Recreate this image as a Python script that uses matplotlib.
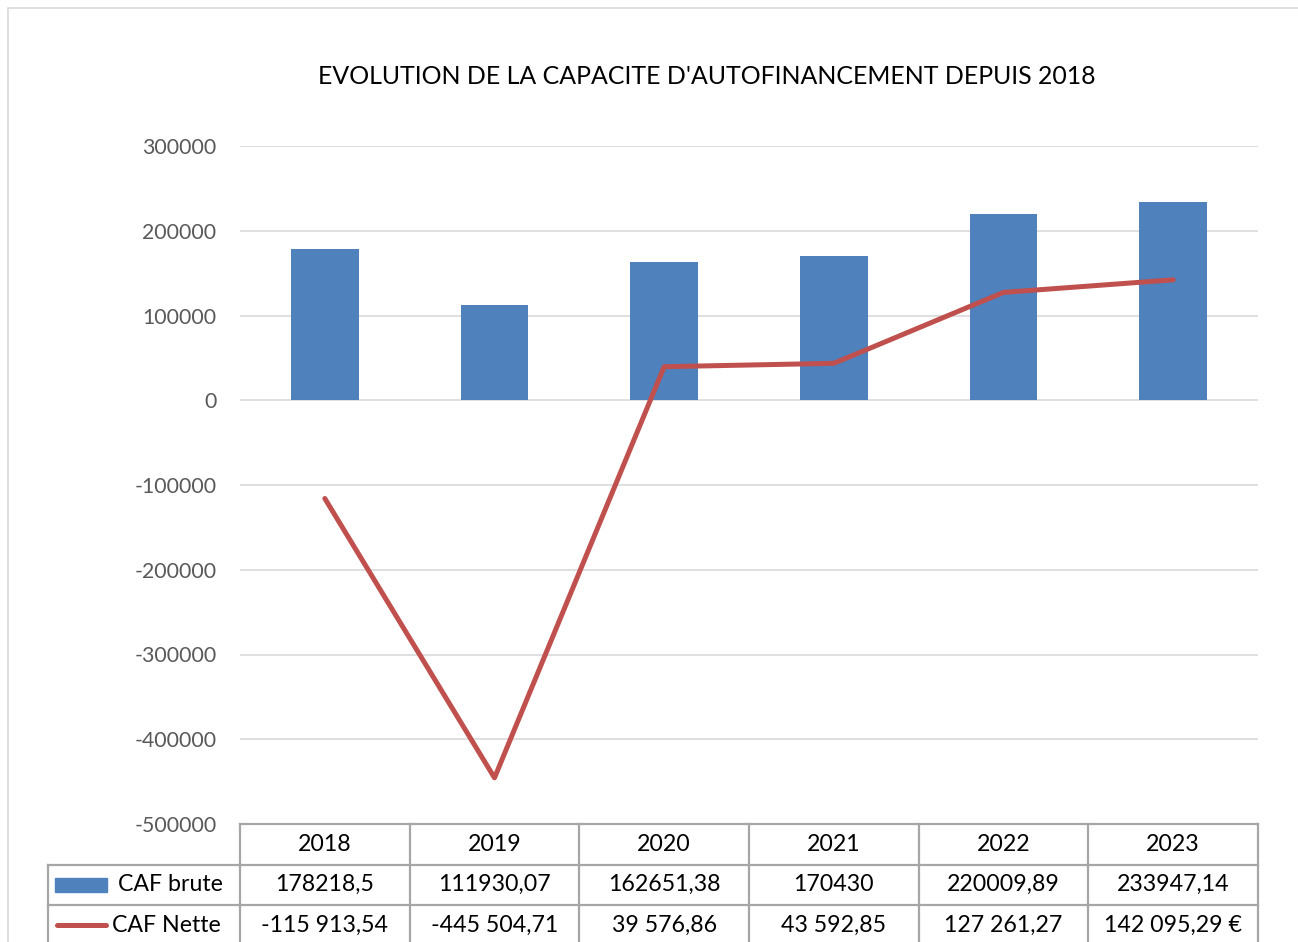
import matplotlib.pyplot as plt
import matplotlib.transforms as mtransforms
from matplotlib.patches import Rectangle
from matplotlib.lines import Line2D

plt.rcParams['font.family'] = ['Lato', 'DejaVu Sans']
plt.rcParams['axes.unicode_minus'] = False

years = ["2018", "2019", "2020", "2021", "2022", "2023"]
caf_brute = [178218.5, 111930.07, 162651.38, 170430, 220009.89, 233947.14]
caf_nette = [-115913.54, -445504.71, 39576.86, 43592.85, 127261.27, 142095.29]
series_names = ["CAF brute", "CAF Nette"]

blue = "#4F81BD"
red = "#C0504D"
grid_col = "#D9D9D9"
table_col = "#A6A6A6"

W, H = 1298, 942
fig = plt.figure(figsize=(W / 100, H / 100), dpi=100)

# chart frame (cropped on the right/bottom like the screenshot)
fig.patches.append(Rectangle((8 / W, -0.1), 1.2, (H - 8) / H + 0.1, transform=fig.transFigure,
                             fill=False, edgecolor="#D9D9D9", linewidth=1.2))

ax = fig.add_axes([240 / W, (H - 824) / H, 1018 / W, 678 / H])
x = list(range(len(years)))

ax.bar(x, caf_brute, width=0.4, color=blue, zorder=2)
ax.plot(x, caf_nette, color=red, linewidth=3.6, zorder=3, solid_capstyle='round')

ax.set_xlim(-0.5, len(years) - 0.5)
ax.set_ylim(-500000, 300000)
ax.set_yticks(range(-500000, 300001, 100000))
ax.yaxis.grid(True, color=grid_col, linewidth=1.2, zorder=0)
ax.set_axisbelow(True)
ax.tick_params(axis='y', length=0, pad=17, labelsize=15.3, labelcolor="#595959")
ax.set_xticks([])
for s in ax.spines.values():
    s.set_visible(False)

fig.text(707 / W, (H - 77) / H, "EVOLUTION DE LA CAPACITE D'AUTOFINANCEMENT DEPUIS 2018",
         ha='center', va='center', fontsize=17.9, color="black")

# data table below the plot
tr = mtransforms.blended_transform_factory(ax.transData, ax.transAxes)
rh = 40.5 / 678
left = -0.5 - 192 / 170
right = len(years) - 0.5
lw = 1.6
kw = dict(transform=tr, color=table_col, linewidth=lw, clip_on=False)

# horizontal lines
ax.add_line(Line2D([-0.5, right], [0, 0], **kw))
for k in (1, 2, 3):
    ax.add_line(Line2D([left, right], [-k * rh, -k * rh], **kw))
# vertical lines
for xv in [i - 0.5 for i in range(len(years) + 1)]:
    ax.add_line(Line2D([xv, xv], [0, -3 * rh], **kw))
ax.add_line(Line2D([left, left], [-rh, -3 * rh], **kw))


def fmt_brute(v):
    return ('%.2f' % v).rstrip('0').rstrip('.').replace('.', ',')


def fmt_nette(v):
    return f"{v:,.2f}".replace(',', ' ').replace('.', ',')


fs = 16.7
tkw = dict(transform=tr, ha='center', va='center', fontsize=fs, color="black", clip_on=False)
for i, yr in enumerate(years):
    ax.text(i, -0.5 * rh, yr, **tkw)
    ax.text(i, -1.5 * rh, fmt_brute(caf_brute[i]), **tkw)
    lab = fmt_nette(caf_nette[i])
    if i == len(years) - 1:
        lab += " €"
    ax.text(i, -2.5 * rh, lab, **tkw)

# legend keys in the first column
px = lambda p: (p - 240) / 170 - 0.5
ax.add_patch(Rectangle((px(55), -1.5 * rh - 7 / 678), px(107) - px(55), 14 / 678,
                       transform=tr, color=blue, clip_on=False))
ax.add_line(Line2D([px(57), px(106)], [-2.5 * rh, -2.5 * rh], transform=tr, color=red,
                   linewidth=3.6, solid_capstyle='round', clip_on=False))
ax.text(px(118), -1.5 * rh, series_names[0], transform=tr, ha='left', va='center',
        fontsize=fs, clip_on=False)
ax.text(px(112), -2.5 * rh, series_names[1], transform=tr, ha='left', va='center',
        fontsize=fs, clip_on=False)

fig.savefig("out.png", dpi=100)
